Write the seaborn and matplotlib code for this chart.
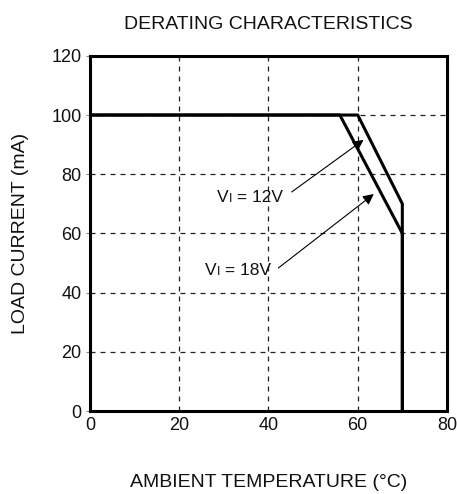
import pandas as pd
import matplotlib
matplotlib.use("Agg")
import matplotlib.pyplot as plt
import seaborn as sns

# ==========================================
# DADOS
# ==========================================
temp_12v = [0, 60, 70, 70]
corrente_12v = [100, 100, 70, 0]
temp_18v = [0, 56, 70, 70]
corrente_18v = [100, 100, 60, 0]

x_ticks = [0, 20, 40, 60, 80]
y_ticks = [0, 20, 40, 60, 80, 100, 120]

# rótulos e setas: (texto, posição do texto, ponta da seta, cauda da seta)
rotulos = ["12V", "18V"]
pos_texto = [(28.5, 72.3), (25.8, 47.6)]
ponta_seta = [(61.3, 91.6), (63.6, 73.3)]
cauda_seta = [(45.2, 74.0), (42.2, 48.3)]

df = pd.concat([
    pd.DataFrame({"temp": temp_12v, "corrente": corrente_12v, "serie": "12V"}),
    pd.DataFrame({"temp": temp_18v, "corrente": corrente_18v, "serie": "18V"}),
])

sns.set_theme(style="white")
plt.rcParams['font.family'] = ['Liberation Sans', 'DejaVu Sans']

fig = plt.figure(figsize=(4.57, 4.94), dpi=100)
ax = fig.add_axes([0.197, 0.168, 0.781, 0.719])

for serie, grupo in df.groupby("serie"):
    sns.lineplot(data=grupo, x="temp", y="corrente", sort=False, estimator=None,
                 color="black", linewidth=2.2, ax=ax, legend=False)

ax.set_xlim(0, 80)
ax.set_ylim(0, 120)
ax.set_xticks(x_ticks)
ax.set_yticks(y_ticks)
ax.tick_params(axis='both', labelsize=13, labelcolor='#111111')
ax.tick_params(axis='x', length=0, pad=4)
ax.tick_params(axis='y', length=3, width=0.8, color='#888888', left=True, pad=3)

ax.grid(True, color='#222222', linestyle=(0, (4, 4)), linewidth=0.9)
ax.set_axisbelow(True)
for spine in ax.spines.values():
    spine.set_color('black')
    spine.set_linewidth(2.2)

ax.set_title('DERATING CHARACTERISTICS', fontsize=14, pad=19.5, color='#111111')
ax.set_xlabel('AMBIENT TEMPERATURE (°C)', fontsize=14, labelpad=29, color='#111111')
ax.set_ylabel('LOAD CURRENT (mA)', fontsize=14, labelpad=16, color='#111111')

# rótulos "VI = ..." com o I menor, e setas apontando para as curvas
for rot, (tx, ty), ponta, cauda in zip(rotulos, pos_texto, ponta_seta, cauda_seta):
    t1 = ax.text(tx, ty, "V", fontsize=12.5, va='center', ha='left', color='#111111')
    t2 = ax.annotate("I", xy=(1, 0), xycoords=t1, va='bottom', ha='left',
                     fontsize=9, color='#111111')
    ax.annotate(" = " + rot, xy=(1, 0), xycoords=t2, va='bottom', ha='left',
                fontsize=12.5, color='#111111')
    ax.annotate("", xy=ponta, xytext=cauda,
                arrowprops=dict(arrowstyle='-|>', color='black', lw=0.8,
                                mutation_scale=16, shrinkA=0, shrinkB=0))

plt.savefig('out.png', dpi=100)
